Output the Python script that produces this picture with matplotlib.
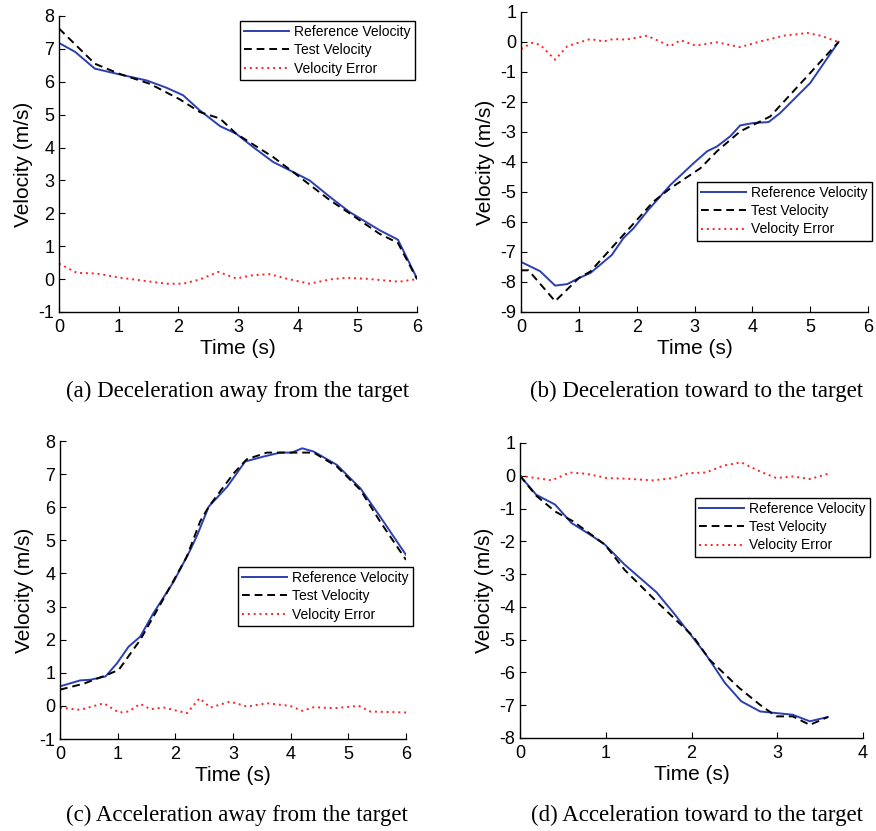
import matplotlib
matplotlib.use("Agg")
import matplotlib.pyplot as plt

# (a) Deceleration away from the target
a_ref_t = [0, 0.27, 0.6, 1.0, 1.47, 1.8, 2.08, 2.36, 2.7, 2.97, 3.25, 3.59, 3.92, 4.2, 4.54, 4.87, 5.37, 5.68, 6.0]
a_ref_v = [7.18, 6.91, 6.40, 6.23, 6.04, 5.82, 5.59, 5.13, 4.65, 4.42, 4.02, 3.56, 3.26, 3.0, 2.5, 2.04, 1.49, 1.2, 0.02]
a_test_t = [0, 0.6, 1.0, 1.52, 2.02, 2.36, 2.7, 2.97, 3.59, 3.92, 4.54, 4.87, 5.37, 5.68, 6.0]
a_test_v = [7.62, 6.55, 6.25, 5.94, 5.47, 5.08, 4.88, 4.42, 3.71, 3.26, 2.4, 2.0, 1.38, 1.1, 0.0]
a_err_t = [0, 0.3, 0.63, 1.0, 1.42, 1.8, 2.08, 2.36, 2.67, 2.97, 3.25, 3.53, 3.8, 4.2, 4.54, 4.82, 5.15, 5.7, 6.0]
a_err_v = [0.47, 0.19, 0.17, 0.05, -0.05, -0.14, -0.14, -0.01, 0.22, 0.02, 0.12, 0.15, 0.02, -0.14, -0.01, 0.04, 0.01, -0.08, 0.0]

# (b) Deceleration toward to the target
b_ref_t = [0, 0.33, 0.59, 0.8, 1.0, 1.2, 1.57, 1.77, 1.95, 2.2, 2.58, 2.99, 3.22, 3.39, 3.62, 3.79, 4.02, 4.28, 4.48, 4.77, 5.0, 5.26, 5.49]
b_ref_v = [-7.33, -7.64, -8.12, -8.07, -7.87, -7.7, -7.1, -6.54, -6.2, -5.6, -4.77, -4.03, -3.64, -3.48, -3.14, -2.78, -2.7, -2.67, -2.37, -1.81, -1.37, -0.64, 0.0]
b_test_t = [0, 0.13, 0.59, 1.0, 1.2, 1.77, 2.29, 2.58, 3.1, 3.39, 3.79, 4.31, 4.95, 5.49]
b_test_v = [-7.61, -7.61, -8.64, -7.87, -7.65, -6.43, -5.32, -4.88, -4.21, -3.64, -2.98, -2.48, -1.14, 0.0]
b_err_t = [0, 0.19, 0.33, 0.59, 0.8, 1.2, 1.43, 1.6, 1.82, 2.18, 2.58, 2.76, 3.02, 3.39, 3.79, 4.14, 4.54, 4.95, 5.18, 5.49]
b_err_v = [-0.23, -0.03, -0.09, -0.59, -0.14, 0.1, 0.02, 0.1, 0.08, 0.21, -0.14, 0.06, -0.12, -0.01, -0.17, 0.02, 0.21, 0.3, 0.21, 0.0]

# (c) Acceleration away from the target
c_ref_t = [0, 0.35, 0.53, 0.79, 0.99, 1.19, 1.39, 1.62, 1.97, 2.26, 2.38, 2.58, 2.9, 3.21, 3.53, 3.82, 4.02, 4.2, 4.4, 4.8, 5.21, 5.55, 6.0]
c_ref_v = [0.59, 0.77, 0.79, 0.89, 1.29, 1.79, 2.09, 2.8, 3.75, 4.71, 5.16, 6.02, 6.62, 7.38, 7.53, 7.65, 7.65, 7.78, 7.68, 7.28, 6.57, 5.72, 4.56]
c_test_t = [0, 0.41, 0.82, 1.02, 1.39, 1.8, 2.2, 2.43, 2.58, 3.01, 3.24, 3.59, 4.4, 4.8, 5.21, 5.55, 6.0]
c_test_v = [0.49, 0.67, 0.94, 1.09, 1.99, 3.25, 4.51, 5.57, 6.02, 7.02, 7.45, 7.65, 7.65, 7.23, 6.52, 5.57, 4.41]
c_err_t = [0, 0.35, 0.76, 1.02, 1.19, 1.39, 1.57, 1.8, 2.2, 2.42, 2.61, 2.95, 3.24, 3.59, 3.99, 4.2, 4.4, 4.75, 5.18, 5.38, 6.0]
c_err_v = [-0.05, -0.12, 0.08, -0.2, -0.17, 0.06, -0.1, -0.05, -0.22, 0.23, -0.05, 0.13, -0.02, 0.08, 0.0, -0.15, -0.04, -0.07, 0.0, -0.17, -0.2]

# (d) Acceleration toward to the target
d_ref_t = [0, 0.19, 0.41, 0.6, 0.82, 0.99, 1.22, 1.59, 1.79, 2.02, 2.17, 2.39, 2.58, 2.8, 2.99, 3.18, 3.38, 3.59]
d_ref_v = [0.0, -0.58, -0.88, -1.44, -1.8, -2.1, -2.71, -3.55, -4.18, -4.95, -5.46, -6.32, -6.88, -7.19, -7.24, -7.29, -7.49, -7.36]
d_test_t = [0, 0.19, 0.41, 0.62, 0.99, 1.22, 1.59, 2.02, 2.21, 2.56, 2.8, 2.99, 3.18, 3.38, 3.59]
d_test_v = [0.0, -0.61, -1.09, -1.39, -2.1, -2.87, -3.83, -4.9, -5.61, -6.48, -6.99, -7.34, -7.34, -7.6, -7.36]
d_err_t = [0, 0.19, 0.37, 0.58, 0.78, 1.01, 1.24, 1.55, 1.79, 1.96, 2.17, 2.37, 2.58, 2.8, 2.99, 3.18, 3.38, 3.59]
d_err_v = [0.0, -0.07, -0.14, 0.1, 0.06, -0.07, -0.09, -0.14, -0.07, 0.08, 0.1, 0.31, 0.41, 0.13, -0.07, -0.02, -0.1, 0.06]

captions = ["(a) Deceleration away from the target",
            "(b) Deceleration toward to the target",
            "(c) Acceleration away from the target",
            "(d) Acceleration toward to the target"]

panels = [
    (a_ref_t, a_ref_v, a_test_t, a_test_v, a_err_t, a_err_v, (0, 6), (-1, 8)),
    (b_ref_t, b_ref_v, b_test_t, b_test_v, b_err_t, b_err_v, (0, 6), (-9, 1)),
    (c_ref_t, c_ref_v, c_test_t, c_test_v, c_err_t, c_err_v, (0, 6), (-1, 8)),
    (d_ref_t, d_ref_v, d_test_t, d_test_v, d_err_t, d_err_v, (0, 4), (-8, 1)),
]

W, H = 876, 831
# axes boxes in pixels: left, right, top, bottom
boxes = [(59, 417, 16, 312), (521, 868, 12, 312), (60, 406, 441, 739), (520, 863, 443, 738)]
# legend upper-left corners in pixels
leg_pos = [(240, 21), (697, 182), (238, 567), (695, 498)]
cap_pos = [(238, 391), (697, 391), (237, 815), (697, 815)]

plt.rcParams['font.family'] = ['Liberation Sans', 'DejaVu Sans']
plt.rcParams['axes.unicode_minus'] = False
fig = plt.figure(figsize=(W / 100, H / 100), dpi=100)

for i, (rt, rv, tt, tv, et, ev, xl, yl) in enumerate(panels):
    l, r, t, b = boxes[i]
    ax = fig.add_axes([l / W, 1 - b / H, (r - l) / W, (b - t) / H])
    ax.plot(rt, rv, color='#2b3fb0', lw=1.4, label='Reference Velocity')
    ax.plot(tt, tv, color='black', lw=1.4, ls=(0, (4, 2.5)), label='Test Velocity')
    ax.plot(et, ev, color='#ff2020', lw=1.4, ls=(0, (1, 2)), label='Velocity Error')
    ax.set_xlim(*xl)
    ax.set_ylim(*yl)
    ax.set_xticks(range(xl[0], xl[1] + 1))
    ax.set_yticks(range(yl[0], yl[1] + 1))
    for s in ['top', 'right']:
        ax.spines[s].set_visible(False)
    for s in ['left', 'bottom']:
        ax.spines[s].set_linewidth(1.0)
    ax.tick_params(direction='in', length=4, labelsize=13, colors='black')
    ax.tick_params(axis='x', pad=5)
    ax.set_xlabel('Time (s)', fontsize=15, labelpad=2)
    ax.set_ylabel('Velocity (m/s)', fontsize=15, labelpad=4)
    lx, ly = leg_pos[i]
    ax.legend(loc='upper left', bbox_to_anchor=(lx / W, 1 - ly / H), bbox_transform=fig.transFigure,
              fontsize=10, fancybox=False, edgecolor='black', framealpha=1,
              handlelength=3.2, handletextpad=0.4, borderpad=0.3, labelspacing=0.3,
              borderaxespad=0)
    cx, cy = cap_pos[i]
    fig.text(cx / W, 1 - cy / H, captions[i], ha='center', va='center',
             fontsize=16.5, family=['Liberation Serif', 'DejaVu Serif'])

fig.savefig('out.png', dpi=100)
